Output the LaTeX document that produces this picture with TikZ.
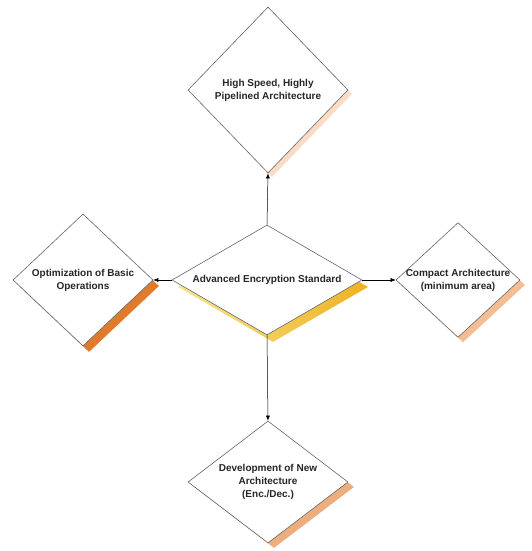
\documentclass[tikz,border=0pt]{standalone}
\usepackage{fontspec}
\setmainfont{Liberation Sans}
\usetikzlibrary{shapes.geometric, shadows, arrows.meta}

\definecolor{speedshade}{HTML}{FADCC6}
\definecolor{basicshade}{HTML}{E27A2C}
\definecolor{compactshade}{HTML}{F5BE92}
\definecolor{newshade}{HTML}{EBAE7C}
\definecolor{aeslight}{HTML}{F9E48E}
\definecolor{aesdark}{HTML}{EDB21F}

\begin{document}
\begin{tikzpicture}[x=1pt,y=1pt,
  goal/.style={diamond, draw=black!60, line width=0.6pt, fill=white,
    inner xsep=-6pt, inner ysep=0pt, align=center,
    font=\bfseries\fontsize{10}{13}\selectfont, text=black!85},
  link/.style={-{Latex[length=5pt,width=4pt]}, line width=0.5pt}]
\useasboundingbox [fill=white] (0,0) rectangle (532,551);

\node[goal, shape aspect=1.7, minimum width=190pt, minimum height=110pt,
  general shadow={shadow xshift=6pt, shadow yshift=-7pt, left color=aeslight, right color=aesdark}]
  (aes) at (267,271) {Advanced Encryption Standard};
\node[goal, minimum width=160pt, minimum height=166pt,
  general shadow={shadow xshift=4pt, shadow yshift=-4pt, fill=speedshade}]
  (speed) at (268,461) {High Speed, Highly\\Pipelined Architecture};
\node[goal, minimum width=140pt, minimum height=132pt,
  general shadow={shadow xshift=6pt, shadow yshift=-6pt, fill=basicshade}]
  (basic) at (83,271) {Optimization of Basic\\Operations};
\node[goal, minimum width=124pt, minimum height=114pt,
  general shadow={shadow xshift=5pt, shadow yshift=-5pt, fill=compactshade}]
  (compact) at (458,271) {Compact Architecture\\(minimum area)};
\node[goal, shape aspect=1.3, minimum width=160pt, minimum height=122pt,
  general shadow={shadow xshift=6pt, shadow yshift=-5pt, fill=newshade}]
  (new) at (268,69) {Development of New\\Architecture\\(Enc./Dec.)};

% arrows out of the centre
\draw [link] (aes.north) -- (speed.south);
\draw [link] (aes.west) -- (basic.east);
\draw [link] (aes.east) -- (compact.west);
\draw [link] (aes.south) -- (new.north);
\end{tikzpicture}
\end{document}
